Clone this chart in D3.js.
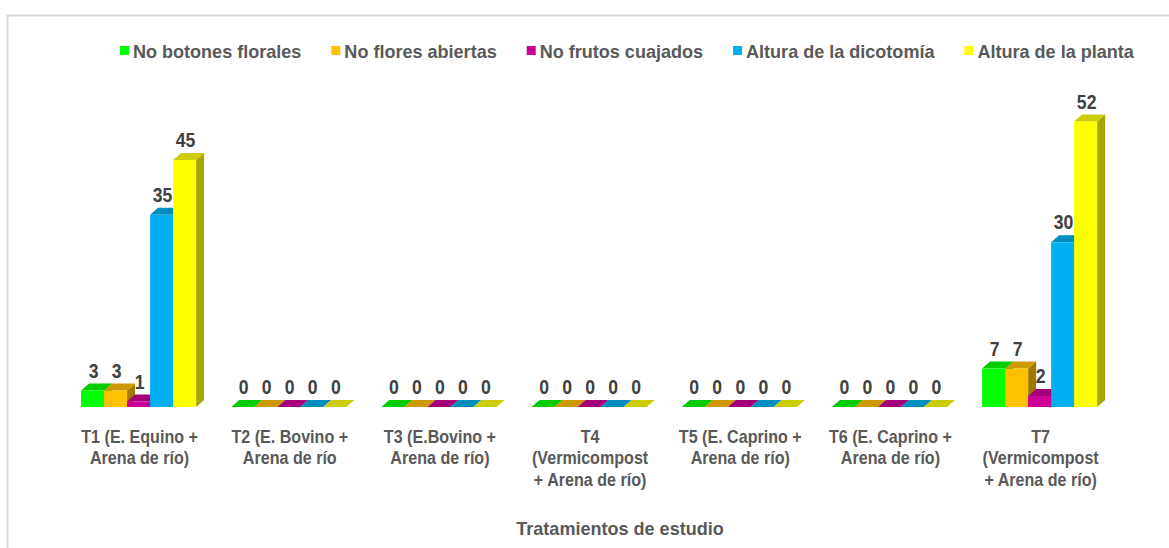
<!DOCTYPE html>
<html>
<head>
<meta charset="utf-8">
<script src="https://cdn.jsdelivr.net/npm/d3@7"></script>
<style>
  body { margin: 0; background: #fff; }
  text { font-family: "Liberation Sans Narrow", "Arial Narrow", "Liberation Sans", sans-serif; font-weight: bold; }
</style>
</head>
<body>
<div id="chart"></div>
<script>
// categories (x axis), each label split into lines
var categories = ["T1", "T2", "T3", "T4", "T5", "T6", "T7"];
var categoryLines = [
    ["T1 (E. Equino +", "Arena de río)"],
    ["T2 (E. Bovino +", "Arena de río"],
    ["T3 (E.Bovino +", "Arena de río)"],
    ["T4", "(Vermicompost", "+ Arena de río)"],
    ["T5 (E. Caprino +", "Arena de río)"],
    ["T6 (E. Caprino +", "Arena de río)"],
    ["T7", "(Vermicompost", "+ Arena de río)"]
];

var seriesNames = ["No botones florales", "No flores abiertas", "No frutos cuajados", "Altura de la dicotomía", "Altura de la planta"];
var botones = [3, 0, 0, 0, 0, 0, 7];
var flores = [3, 0, 0, 0, 0, 0, 7];
var frutos = [1, 0, 0, 0, 0, 0, 2];
var dicotomia = [35, 0, 0, 0, 0, 0, 30];
var planta = [45, 0, 0, 0, 0, 0, 52];
var seriesValues = [botones, flores, frutos, dicotomia, planta];

// front, top, side colours for each series
var colors = [
    ["#00ff00", "#00cc00", "#00a300"],
    ["#ffc000", "#cc9a00", "#a07a00"],
    ["#cc0099", "#a3007a", "#800060"],
    ["#00b0f0", "#008dc0", "#00709a"],
    ["#ffff00", "#cccc00", "#a6a600"]
];

var width = 1169, height = 548;
var dx = 8, dy = -7; // 3d depth

var svg = d3.select("#chart").append("svg")
    .attr("width", width)
    .attr("height", height);

// squeezes text sideways, the original uses a narrow font
function narrowText(parent, x, y, size, sx) {
    return parent.append("text")
        .attr("transform", "translate(" + x + "," + y + ") scale(" + sx + ",1)")
        .attr("font-size", size);
}

// chart border
svg.append("rect")
    .attr("x", 7.5).attr("y", 15.5)
    .attr("width", 1180).attr("height", 560)
    .attr("fill", "none")
    .attr("stroke", "#d9d9d9")
    .attr("stroke-width", 2);

var xScale = d3.scaleBand().domain(categories).range([63.5, 1114.7])
    .paddingInner(0.234).paddingOuter(0.117);
var xSeries = d3.scaleBand().domain(d3.range(seriesNames.length)).range([0, xScale.bandwidth()]);
var yScale = d3.scaleLinear().domain([0, 60]).range([407, 77.6]);

// flatten so bars are drawn left to right
var bars = [];
categories.forEach(function (c, i) {
    seriesValues.forEach(function (vals, s) {
        bars.push({ cat: c, idx: i, s: s, value: vals[i] });
    });
});

var g = svg.append("g");
bars.forEach(function (d) {
    var x0 = xScale(d.cat) + xSeries(d.s);
    var x1 = x0 + xSeries.bandwidth();
    var yt = yScale(d.value), yb = yScale(0);
    var col = colors[d.s];
    var bg = g.append("g");
    // side face
    bg.append("polygon")
        .attr("points", [[x1, yt], [x1 + dx, yt + dy], [x1 + dx, yb + dy], [x1, yb]].join(" "))
        .attr("fill", col[2]);
    // top face
    bg.append("polygon")
        .attr("points", [[x0, yt], [x1, yt], [x1 + dx, yt + dy], [x0 + dx, yt + dy]].join(" "))
        .attr("fill", col[1]);
    // front
    bg.append("rect")
        .attr("x", x0).attr("y", yt)
        .attr("width", x1 - x0).attr("height", yb - yt)
        .attr("fill", col[0]);
    // value label
    narrowText(bg, (x0 + x1) / 2 + 1, yt + dy - 6, 20, 0.88)
        .attr("text-anchor", "middle")
        .attr("fill", "#404040")
        .text(d.value);
});

// category labels
categories.forEach(function (c, i) {
    var t = narrowText(svg, xScale(c) + xScale.bandwidth() / 2 + 1, 443, 17.5, 0.92)
        .attr("text-anchor", "middle")
        .attr("fill", "#595959");
    categoryLines[i].forEach(function (line, k) {
        t.append("tspan")
            .attr("x", 0)
            .attr("dy", k == 0 ? 0 : 21.5)
            .text(line);
    });
});

// axis title
narrowText(svg, 620, 535, 19, 0.95)
    .attr("text-anchor", "middle")
    .attr("fill", "#595959")
    .text("Tratamientos de estudio");

// legend
var legend = svg.append("g");
var lx = 120;
seriesNames.forEach(function (name, s) {
    legend.append("rect")
        .attr("x", lx).attr("y", 46)
        .attr("width", 9).attr("height", 9)
        .attr("fill", colors[s][0]);
    var t = narrowText(legend, lx + 13, 58, 19, 0.95)
        .attr("fill", "#595959")
        .text(name);
    lx += 13 + t.node().getComputedTextLength() * 0.95 + 30;
});
</script>
</body>
</html>
